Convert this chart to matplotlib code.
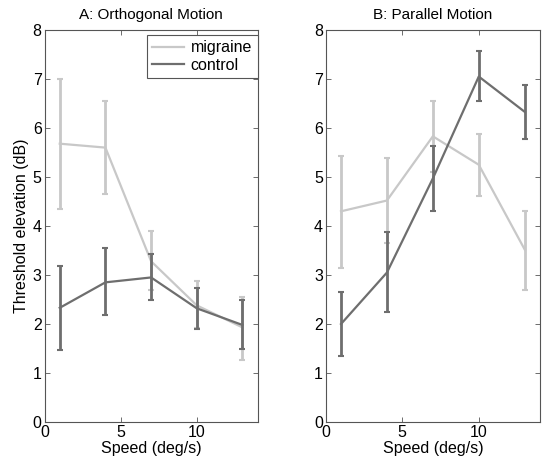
import matplotlib
matplotlib.use("Agg")
import matplotlib.pyplot as plt
from matplotlib.lines import Line2D

plt.rcParams['font.family'] = ['Liberation Sans', 'DejaVu Sans']

speeds = [1, 4, 7, 10, 13]

# Panel A: Orthogonal motion
a_mig = [5.68, 5.60, 3.28, 2.38, 1.93]
a_mig_lo = [4.35, 4.65, 2.70, 1.92, 1.27]
a_mig_hi = [7.00, 6.56, 3.90, 2.87, 2.56]
a_con = [2.33, 2.85, 2.95, 2.32, 1.98]
a_con_lo = [1.47, 2.18, 2.48, 1.90, 1.48]
a_con_hi = [3.18, 3.55, 3.42, 2.73, 2.48]

# Panel B: Parallel motion
b_mig = [4.30, 4.52, 5.83, 5.25, 3.52]
b_mig_lo = [3.15, 3.65, 5.10, 4.62, 2.70]
b_mig_hi = [5.43, 5.38, 6.55, 5.87, 4.30]
b_con = [2.00, 3.05, 4.97, 7.05, 6.33]
b_con_lo = [1.35, 2.25, 4.30, 6.55, 5.77]
b_con_hi = [2.65, 3.88, 5.63, 7.57, 6.88]

titles = ["A: Orthogonal Motion", "B: Parallel Motion"]
xticks = [0, 5, 10]
yticks = [0, 1, 2, 3, 4, 5, 6, 7, 8]

mig_color = "#c8c8c8"
con_color = "#6e6e6e"

W, H = 550, 469
fig = plt.figure(figsize=(W / 100, H / 100), dpi=100)
axA = fig.add_axes([44.5 / W, 1 - 422 / H, (257.7 - 44.5) / W, 392 / H])
axB = fig.add_axes([325.7 / W, 1 - 422 / H, (540 - 325.7) / W, 392 / H])

panels = [
    (axA, a_mig, a_mig_lo, a_mig_hi, a_con, a_con_lo, a_con_hi),
    (axB, b_mig, b_mig_lo, b_mig_hi, b_con, b_con_lo, b_con_hi),
]

for i, (ax, m, mlo, mhi, c, clo, chi) in enumerate(panels):
    merr = [[v - lo for v, lo in zip(m, mlo)], [hi - v for v, hi in zip(m, mhi)]]
    cerr = [[v - lo for v, lo in zip(c, clo)], [hi - v for v, hi in zip(c, chi)]]
    ax.errorbar(speeds, m, yerr=merr, color=mig_color, lw=1.6, elinewidth=2.0,
                capsize=2, capthick=1.5, label="migraine", zorder=2)
    ax.errorbar(speeds, c, yerr=cerr, color=con_color, lw=1.6, elinewidth=2.0,
                capsize=2, capthick=1.5, label="control", zorder=3)
    ax.set_xlim(0, 14)
    ax.set_ylim(0, 8)
    ax.set_xticks(xticks)
    ax.set_yticks(yticks)
    ax.tick_params(direction='in', top=True, right=True, labelsize=11.5,
                   length=3.5, width=0.6, color="#555555")
    ax.tick_params(axis='y', pad=2)
    ax.tick_params(axis='x', pad=2)
    for s in ax.spines.values():
        s.set_color("#555555")
        s.set_linewidth(0.8)
    ax.set_title(titles[i], fontsize=11, pad=8)
    ax.set_xlabel("Speed (deg/s)", fontsize=11.5, labelpad=1)

axA.set_ylabel("Threshold elevation (dB)", fontsize=11.5, labelpad=3)

h = [Line2D([], [], color=mig_color, lw=1.6), Line2D([], [], color=con_color, lw=1.6)]
leg = axA.legend(h, ["migraine", "control"], loc="upper right",
                 bbox_to_anchor=(1.0, 0.988), fontsize=11.5, frameon=True,
                 fancybox=False, edgecolor="#555555", framealpha=1,
                 handlelength=2.0, handletextpad=0.4, borderpad=0.35,
                 labelspacing=0.15, borderaxespad=0.0)
leg.get_frame().set_linewidth(0.8)

fig.savefig("out.png", dpi=100)
